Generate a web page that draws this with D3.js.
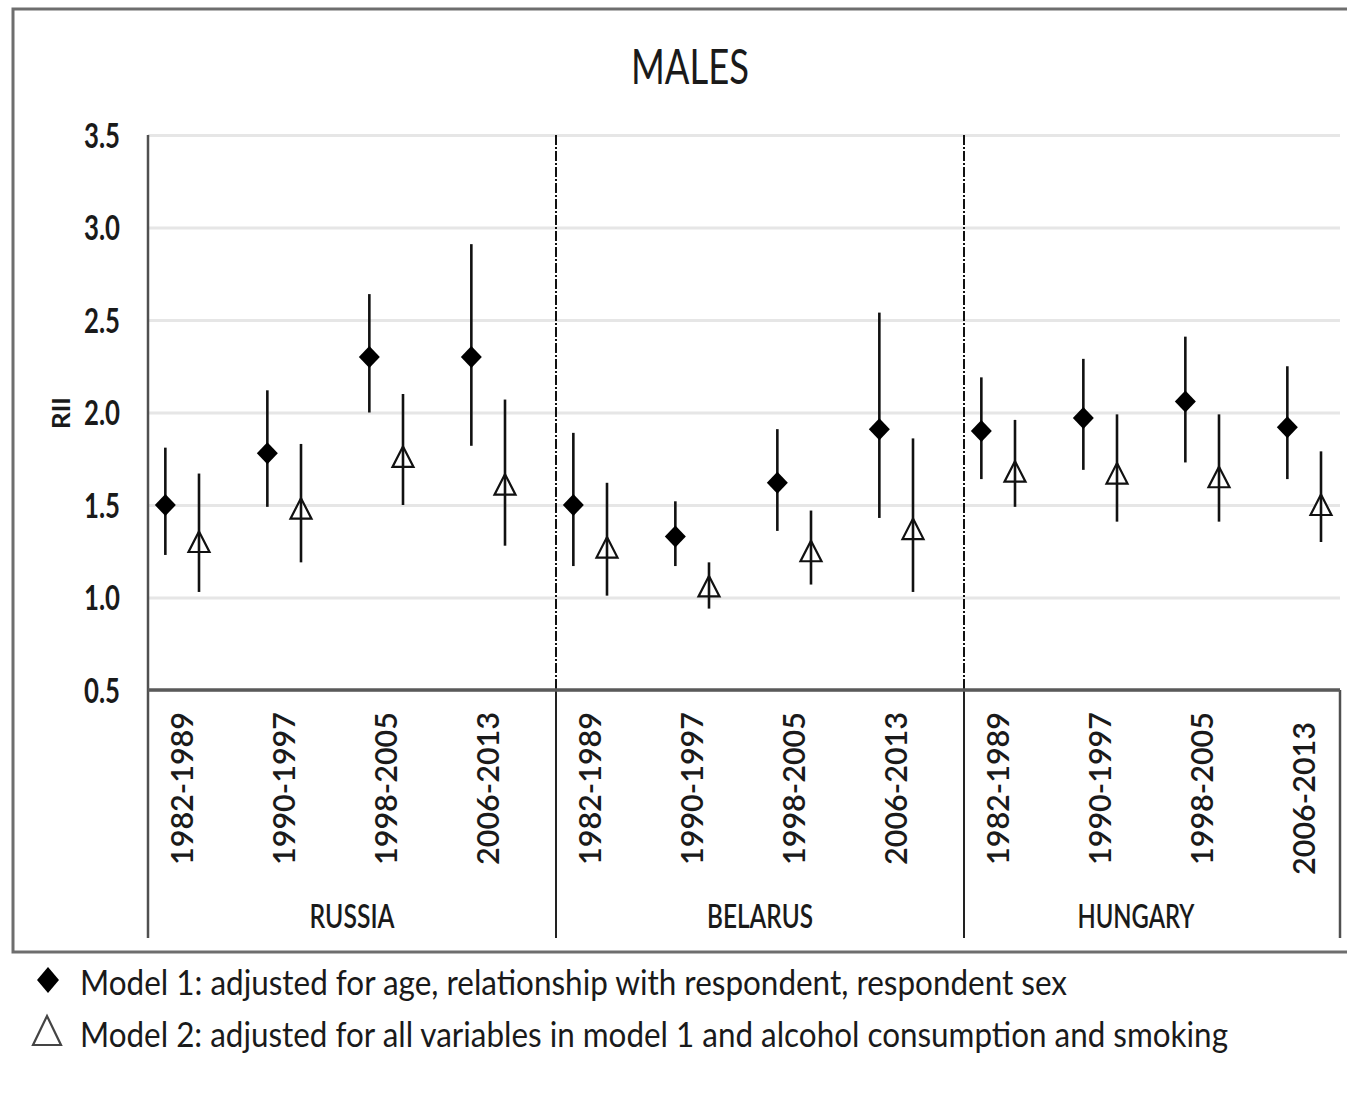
<!DOCTYPE html>
<html>
<head>
<meta charset="utf-8">
<script src="https://cdn.jsdelivr.net/npm/d3@7"></script>
<style>
	body { margin: 0; background: #fff; }
	text { font-family: Lato, "Open Sans", sans-serif; fill: #1a1a1a; }
</style>
</head>
<body>
<script>
var countries = ["RUSSIA", "BELARUS", "HUNGARY"]
var periods = ["1982-1989", "1990-1997", "1998-2005", "2006-2013"]
var yTicks = [0.5, 1.0, 1.5, 2.0, 2.5, 3.0, 3.5]

// model 1 (diamonds), in country order, 4 periods each
var m1Est = [1.50, 1.78, 2.30, 2.30,   1.50, 1.33, 1.62, 1.91,   1.90, 1.97, 2.06, 1.92]
var m1Lo  = [1.23, 1.49, 2.00, 1.82,   1.17, 1.17, 1.36, 1.43,   1.64, 1.69, 1.73, 1.64]
var m1Hi  = [1.81, 2.12, 2.64, 2.91,   1.89, 1.52, 1.91, 2.54,   2.19, 2.29, 2.41, 2.25]

// model 2 (triangles)
var m2Est = [1.30, 1.48, 1.76, 1.61,   1.27, 1.06, 1.25, 1.37,   1.68, 1.67, 1.65, 1.50]
var m2Lo  = [1.03, 1.19, 1.50, 1.28,   1.01, 0.94, 1.07, 1.03,   1.49, 1.41, 1.41, 1.30]
var m2Hi  = [1.67, 1.83, 2.10, 2.07,   1.62, 1.19, 1.47, 1.86,   1.96, 1.99, 1.99, 1.79]

var legendLabels = [
	"Model 1: adjusted for age, relationship with respondent, respondent sex",
	"Model 2: adjusted for all variables in model 1 and alcohol consumption and smoking"
]

var W = 1347, H = 1097
var plotLeft = 148, plotTop = 135, plotBottom = 690, plotRight = 1340, axisFoot = 938

var svg = d3.select("body").append("svg")
	.attr("width", W)
	.attr("height", H)

// outer frame (right side is cropped off in the original)
svg.append("path")
	.attr("d", "M" + W + " 9 L13 9 L13 952 L" + W + " 952")
	.attr("fill", "none")
	.attr("stroke", "#6e6e6e")
	.attr("stroke-width", 3)

svg.append("text")
	.attr("x", 690).attr("y", 84)
	.attr("text-anchor", "middle")
	.attr("font-size", 48)
	.attr("textLength", 118).attr("lengthAdjust", "spacingAndGlyphs")
	.text("MALES")

var y = d3.scaleLinear().domain([0.5, 3.5]).range([plotBottom, plotTop])

var keys = []
countries.forEach(function(c) { periods.forEach(function(p) { keys.push(c + "|" + p) }) })
var x = d3.scaleBand().domain(keys).range([plotLeft, plotLeft + keys.length * 102])
var bw = x.bandwidth()
function mid(i) { return x(keys[i]) + 0.335 * bw }
function xM1(i) { return mid(i) - 0.165 * bw }
function xM2(i) { return mid(i) + 0.165 * bw }

// gridlines
var grid = svg.append("g")
	.attr("transform", "translate(" + plotLeft + ",0)")
	.call(d3.axisLeft(y).tickValues(yTicks).tickSize(-(plotRight - plotLeft)).tickFormat(""))
grid.select(".domain").remove()
grid.selectAll("line").attr("stroke", "#e6e6e6").attr("stroke-width", 3)

// y tick labels
var yAxis = svg.append("g")
	.attr("transform", "translate(120,0)")
	.call(d3.axisLeft(y).tickValues(yTicks).tickSize(0).tickPadding(0).tickFormat(d3.format(".1f")))
yAxis.select(".domain").remove()
yAxis.selectAll("text")
	.attr("font-size", 34)
	.attr("font-weight", "bold")
	.attr("dy", "0.36em")
	.attr("textLength", 36).attr("lengthAdjust", "spacingAndGlyphs")
	.style("font-family", "Lato, sans-serif")
	.attr("fill", "#1a1a1a")

svg.append("text")
	.attr("transform", "translate(70,413) rotate(-90)")
	.attr("text-anchor", "middle")
	.attr("font-size", 24)
	.attr("font-weight", "bold")
	.attr("textLength", 32).attr("lengthAdjust", "spacingAndGlyphs")
	.text("RII")

// frame lines of the plot
svg.append("line")
	.attr("x1", plotLeft).attr("x2", plotLeft).attr("y1", plotTop).attr("y2", axisFoot)
	.attr("stroke", "#505050").attr("stroke-width", 2.5)
svg.append("line")
	.attr("x1", plotRight).attr("x2", plotRight).attr("y1", plotBottom).attr("y2", axisFoot)
	.attr("stroke", "#505050").attr("stroke-width", 2.5)

var dividers = countries.slice(1).map(function(c) { return x(c + "|" + periods[0]) })
dividers.forEach(function(dx)
{
	svg.append("line")
		.attr("x1", dx).attr("x2", dx).attr("y1", plotTop).attr("y2", plotBottom)
		.attr("stroke", "#111").attr("stroke-width", 2)
		.attr("stroke-dasharray", "10,2,2,2")
	svg.append("line")
		.attr("x1", dx).attr("x2", dx).attr("y1", plotBottom).attr("y2", axisFoot)
		.attr("stroke", "#222").attr("stroke-width", 2)
})

svg.append("line")
	.attr("x1", plotLeft).attr("x2", plotRight).attr("y1", plotBottom).attr("y2", plotBottom)
	.attr("stroke", "#5a5a5a").attr("stroke-width", 3.5)

// period labels
svg.selectAll(".period")
	.data(keys)
	.enter()
	.append("text")
	.attr("class", "period")
	.attr("transform", function(d, i) { return "translate(" + mid(i) + "," + (i == 11 ? 722 : 712) + ") rotate(-90)" })
	.attr("text-anchor", "end")
	.attr("dy", "0.36em")
	.attr("font-size", 30)
	.attr("font-weight", 600)
	.attr("textLength", 153).attr("lengthAdjust", "spacingAndGlyphs")
	.text(function(d) { return d.split("|")[1] })

// country labels
var countryWidth = [85, 106, 117]
svg.selectAll(".country")
	.data(countries)
	.enter()
	.append("text")
	.attr("class", "country")
	.attr("x", function(c, i) {
		var a = x(c + "|" + periods[0])
		var b = Math.min(x(c + "|" + periods[3]) + bw, plotRight)
		return i == 2 ? (a + b) / 2 - 16 : (a + b) / 2
	})
	.attr("y", 928)
	.attr("text-anchor", "middle")
	.attr("font-size", 32)
	.attr("font-weight", 600)
	.attr("textLength", function(c, i) { return countryWidth[i] })
	.attr("lengthAdjust", "spacingAndGlyphs")
	.text(function(c) { return c })

var diamond = "M0,-11 L10.5,0 L0,11 L-10.5,0 Z"
var triangle = "M0,-10.5 L10.5,10 L-10.5,10 Z"

var plot = svg.append("g")

plot.selectAll(".ci1")
	.data(m1Est)
	.enter()
	.append("line")
	.attr("x1", function(d, i) { return xM1(i) })
	.attr("x2", function(d, i) { return xM1(i) })
	.attr("y1", function(d, i) { return y(m1Lo[i]) })
	.attr("y2", function(d, i) { return y(m1Hi[i]) })
	.attr("stroke", "#111").attr("stroke-width", 2.6)

plot.selectAll(".m1")
	.data(m1Est)
	.enter()
	.append("path")
	.attr("d", diamond)
	.attr("transform", function(d, i) { return "translate(" + xM1(i) + "," + y(d) + ")" })
	.attr("fill", "#000")

plot.selectAll(".m2")
	.data(m2Est)
	.enter()
	.append("path")
	.attr("d", triangle)
	.attr("transform", function(d, i) { return "translate(" + xM2(i) + "," + y(d) + ")" })
	.attr("fill", "#fff")
	.attr("stroke", "#111").attr("stroke-width", 2.2)

plot.selectAll(".ci2")
	.data(m2Est)
	.enter()
	.append("line")
	.attr("x1", function(d, i) { return xM2(i) })
	.attr("x2", function(d, i) { return xM2(i) })
	.attr("y1", function(d, i) { return y(m2Lo[i]) })
	.attr("y2", function(d, i) { return y(m2Hi[i]) })
	.attr("stroke", "#111").attr("stroke-width", 2.6)

// legend
var legend = svg.append("g")
legend.append("path")
	.attr("d", "M0,-13 L11,0 L0,13 L-11,0 Z")
	.attr("transform", "translate(48,980)")
	.attr("fill", "#000")
legend.append("path")
	.attr("d", "M0,-15 L14,14 L-14,14 Z")
	.attr("transform", "translate(47,1031)")
	.attr("fill", "#fff")
	.attr("stroke", "#444").attr("stroke-width", 2.2)

var legendWidth = [987, 1148]
legend.selectAll(".lt")
	.data(legendLabels)
	.enter()
	.append("text")
	.attr("x", 80)
	.attr("y", function(d, i) { return 995 + i * 52 })
	.attr("font-size", 35)
	.attr("textLength", function(d, i) { return legendWidth[i] })
	.attr("lengthAdjust", "spacingAndGlyphs")
	.text(function(d) { return d })
</script>
</body>
</html>
